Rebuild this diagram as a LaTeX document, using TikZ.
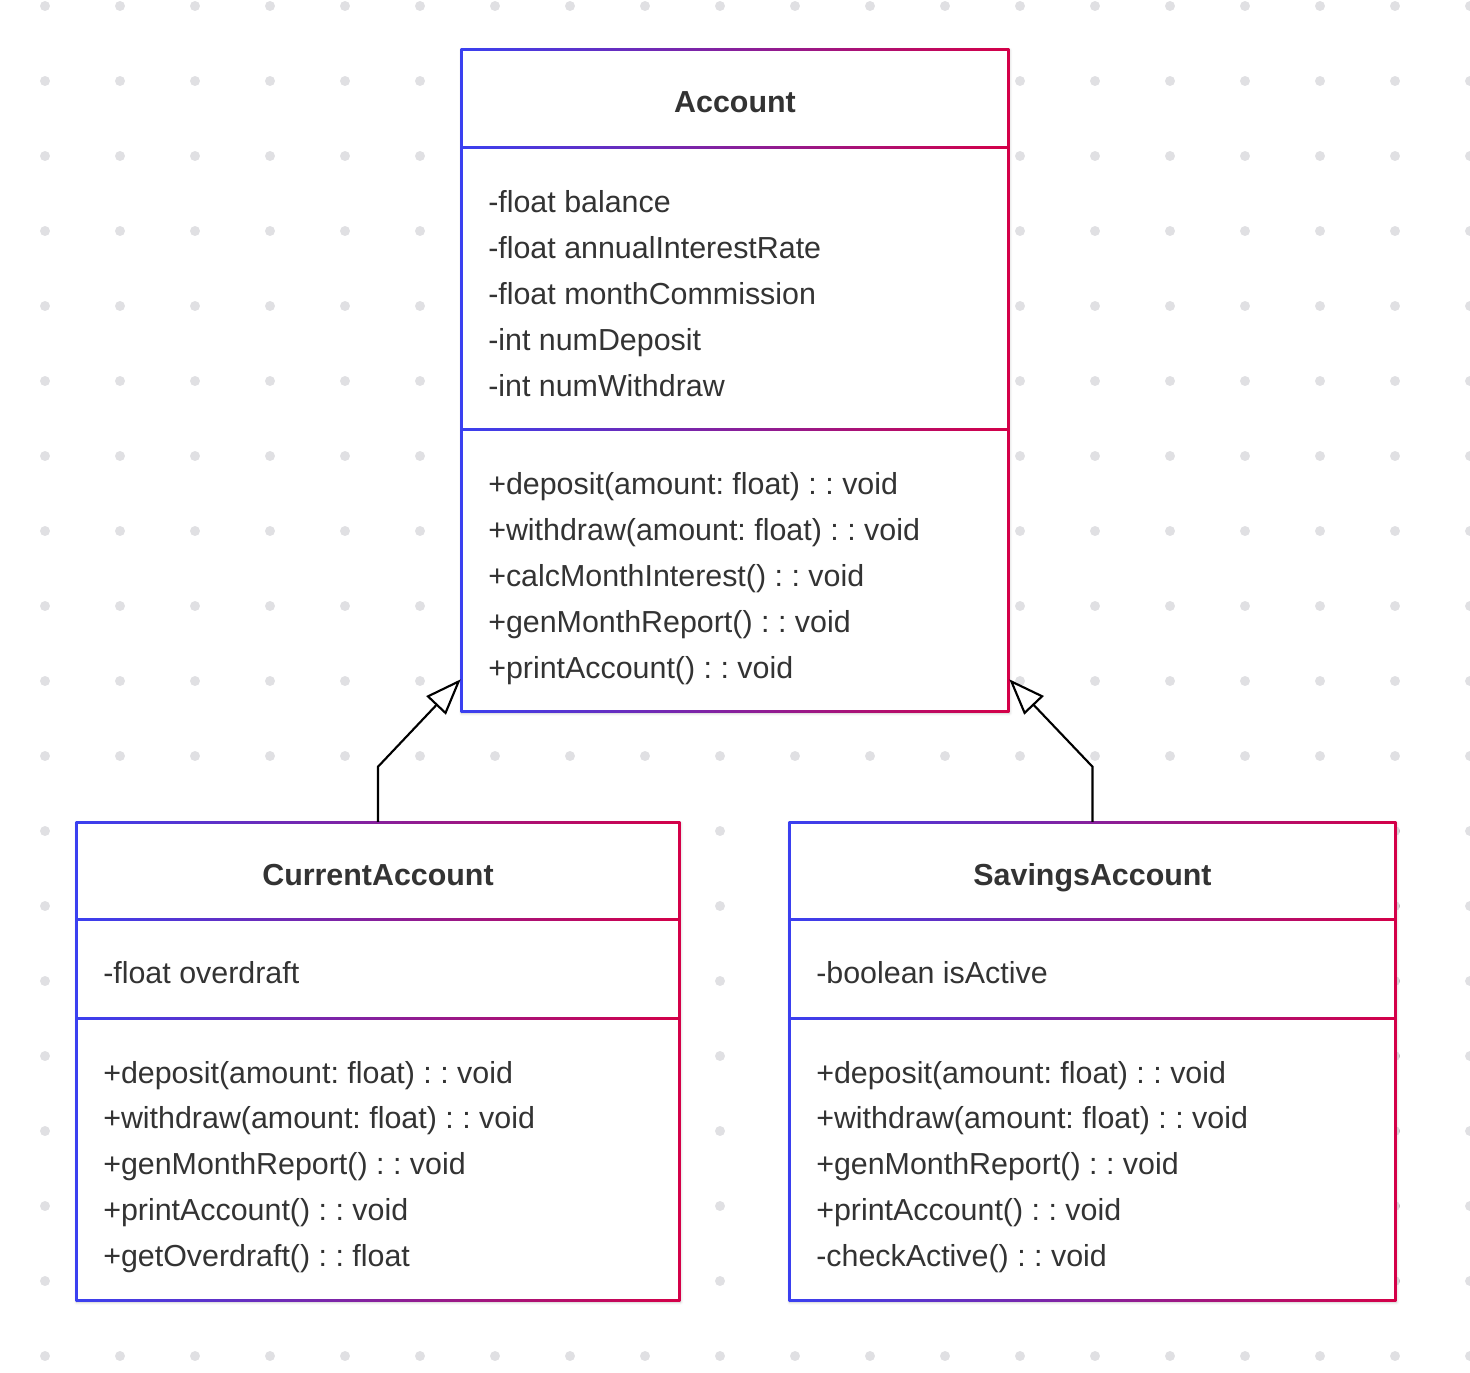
\documentclass[tikz,border=0pt]{standalone}
\usepackage{fontspec}
\setmainfont{Liberation Sans}
\usetikzlibrary{arrows.meta,calc,shadows.blur}
\frenchspacing

\definecolor{umlblue}{RGB}{58,64,240}
\definecolor{umlred}{RGB}{212,0,72}
\definecolor{umltext}{RGB}{51,51,51}
\definecolor{dotgray}{RGB}{224,224,227}

\tikzset{
	classbox/.style={rectangle, fill=white, draw=none, inner sep=0pt,
		blur shadow={shadow xshift=0.5pt, shadow yshift=-1pt, shadow blur steps=6, shadow opacity=22}},
	gradframe/.style={left color=umlblue, right color=umlred},
	classname/.style={anchor=base, inner sep=0pt, text=umltext, font=\fontsize{22.8}{27}\selectfont\bfseries},
	member/.style={anchor=base west, inner sep=0pt, text=umltext, font=\fontsize{22.8}{27}\selectfont},
	inherit/.style={draw=black, line width=1.6pt, -{Triangle[open, length=27pt, width=20pt, line width=1.6pt]}},
}

\begin{document}
\begin{tikzpicture}[x=0.75pt, y=-0.75pt]
	\useasboundingbox (0,0) rectangle (1470,1372);
	% dotted background
	\foreach \gx in {45,120,...,1470}
		\foreach \gy in {6,81,...,1356}
			\fill[dotgray] (\gx,\gy) circle[radius=3.75pt];

	% Account
	\node[classbox, minimum width=548*0.75pt, minimum height=663*0.75pt] (acct) at (735,380.5) {};
	\shade[gradframe] (acct.north west) rectangle (acct.south east);
	\fill[white] ([shift={(2,2)}]acct.north west) rectangle ([shift={(-2,-2)}]acct.south east);
	\shade[gradframe] ([shift={(0,98)}]acct.north west) rectangle ([shift={(0,100)}]acct.north east);
	\shade[gradframe] ([shift={(0,380)}]acct.north west) rectangle ([shift={(0,382)}]acct.north east);
	\node[classname] (acct-name) at (735,112) {Account};
	\foreach [count=\i] \t in {{-float balance},{-float annualInterestRate},{-float monthCommission},{-int numDeposit},{-int numWithdraw}}
		\node[member] (acct-a\i) at (488,{212+46*(\i-1)}) {\t};
	\foreach [count=\i] \t in {{+deposit(amount: float) : : void},{+withdraw(amount: float) : : void},{+calcMonthInterest() : : void},{+genMonthReport() : : void},{+printAccount() : : void}}
		\node[member] (acct-m\i) at (488,{494+46*(\i-1)}) {\t};

	% CurrentAccount
	\node[classbox, minimum width=604*0.75pt, minimum height=479*0.75pt] (curr) at (378,1061.5) {};
	\shade[gradframe] (curr.north west) rectangle (curr.south east);
	\fill[white] ([shift={(2,2)}]curr.north west) rectangle ([shift={(-2,-2)}]curr.south east);
	\shade[gradframe] ([shift={(0,97)}]curr.north west) rectangle ([shift={(0,99)}]curr.north east);
	\shade[gradframe] ([shift={(0,196)}]curr.north west) rectangle ([shift={(0,198)}]curr.north east);
	\node[classname] (curr-name) at (378,885) {CurrentAccount};
	\node[member] (curr-a1) at (103,983) {-float overdraft};
	\foreach [count=\i] \t in {{+deposit(amount: float) : : void},{+withdraw(amount: float) : : void},{+genMonthReport() : : void},{+printAccount() : : void},{+getOverdraft() : : float}}
		\node[member] (curr-m\i) at (103,{1083+45.75*(\i-1)}) {\t};

	% SavingsAccount
	\node[classbox, minimum width=607*0.75pt, minimum height=479*0.75pt] (sav) at (1092.5,1061.5) {};
	\shade[gradframe] (sav.north west) rectangle (sav.south east);
	\fill[white] ([shift={(2,2)}]sav.north west) rectangle ([shift={(-2,-2)}]sav.south east);
	\shade[gradframe] ([shift={(0,97)}]sav.north west) rectangle ([shift={(0,99)}]sav.north east);
	\shade[gradframe] ([shift={(0,196)}]sav.north west) rectangle ([shift={(0,198)}]sav.north east);
	\node[classname] (sav-name) at (1092.5,885) {SavingsAccount};
	\node[member] (sav-a1) at (816,983) {-boolean isActive};
	\foreach [count=\i] \t in {{+deposit(amount: float) : : void},{+withdraw(amount: float) : : void},{+genMonthReport() : : void},{+printAccount() : : void},{-checkActive() : : void}}
		\node[member] (sav-m\i) at (816,{1083+45.75*(\i-1)}) {\t};

	% generalisation
	\draw[inherit] (curr.north) -- ++(0,-55) -- ($(acct.south west)+(0,-33)$);
	\draw[inherit] (sav.north) -- ++(0,-55) -- ($(acct.south east)+(0,-33)$);
\end{tikzpicture}
\end{document}
